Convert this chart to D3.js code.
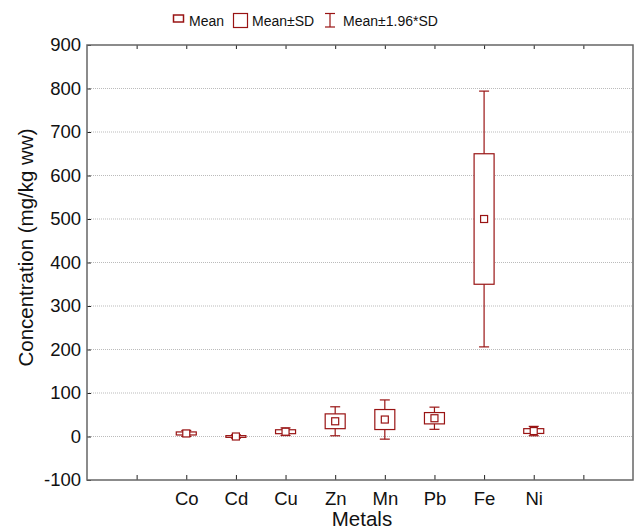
<!DOCTYPE html>
<html>
<head>
<meta charset="utf-8">
<script src="https://cdn.jsdelivr.net/npm/d3@7"></script>
<style>
  body { margin: 0; background: #fff; }
  svg { display: block; font-family: Arial, "Liberation Sans", sans-serif; }
</style>
</head>
<body>
<div id="chart"></div>
<script>
// values
const metals = ["Co", "Cd", "Cu", "Zn", "Mn", "Pb", "Fe", "Ni"];
const means = [7, 0, 11, 35, 39, 42, 500, 12.5];
const sds = [3.5, 2, 4.5, 17, 23, 13, 150, 5.5];
const yTicks = [-100, 0, 100, 200, 300, 400, 500, 600, 700, 800, 900];

const W = 636, H = 531;
const red = "#991414";
const frame = "#666";

const svg = d3.select("#chart").append("svg")
  .attr("width", W).attr("height", H);

const x = d3.scaleLinear().domain([0, metals.length + 3]).range([87, 633]);
const y = d3.scaleLinear().domain([-100, 900]).range([480, 45]);

// grid
svg.append("g").selectAll("line")
  .data(yTicks.filter(t => t > -100 && t < 900))
  .enter().append("line")
  .attr("x1", x(0)).attr("x2", x(metals.length + 3))
  .attr("y1", d => y(d)).attr("y2", d => y(d))
  .attr("stroke", "#bbb").attr("stroke-width", 1)
  .attr("stroke-dasharray", "1,1");

// axes
const yAxis = d3.axisLeft(y).tickValues(yTicks).tickSize(-4).tickPadding(6)
  .tickFormat(d => String(d));
const gy = svg.append("g").attr("transform", `translate(${x(0)},0)`).call(yAxis);
gy.selectAll("text").attr("font-size", "18.5px").attr("fill", "#111")
  .attr("font-family", "Arial, 'Liberation Sans', sans-serif");

const catTicks = d3.range(1, metals.length + 3);
const xAxis = d3.axisBottom(x).tickValues(catTicks).tickSize(-5).tickPadding(12)
  .tickFormat(d => metals[d - 2] || "");
const gx = svg.append("g").attr("transform", `translate(0,${y(-100)})`).call(xAxis);
gx.selectAll("text").attr("font-size", "18.5px").attr("fill", "#111")
  .attr("font-family", "Arial, 'Liberation Sans', sans-serif");

const xTop = d3.axisTop(x).tickValues(catTicks).tickSize(-4).tickFormat("");
svg.append("g").attr("transform", `translate(0,${y(900)})`).call(xTop);

svg.selectAll(".domain").remove();
svg.selectAll(".tick line").attr("stroke", "#222");

// frame
svg.append("rect")
  .attr("x", x(0)).attr("y", y(900))
  .attr("width", x(metals.length + 3) - x(0))
  .attr("height", y(-100) - y(900))
  .attr("fill", "none").attr("stroke", frame).attr("stroke-width", 1.5);

// boxes
const data = metals.map((m, i) => ({ m, i, mean: means[i], sd: sds[i] }));
const boxW = 20, capW = 10, meanS = 7;
const g = svg.append("g").attr("fill", "none").attr("stroke", red).attr("stroke-width", 1.2);

g.selectAll(".whisker").data(data).enter().append("line")
  .attr("x1", d => x(d.i + 2)).attr("x2", d => x(d.i + 2))
  .attr("y1", d => y(d.mean + 1.96 * d.sd)).attr("y2", d => y(d.mean - 1.96 * d.sd));

g.selectAll(".capTop").data(data).enter().append("line")
  .attr("x1", d => x(d.i + 2) - capW / 2).attr("x2", d => x(d.i + 2) + capW / 2)
  .attr("y1", d => y(d.mean + 1.96 * d.sd)).attr("y2", d => y(d.mean + 1.96 * d.sd));

g.selectAll(".capBot").data(data).enter().append("line")
  .attr("x1", d => x(d.i + 2) - capW / 2).attr("x2", d => x(d.i + 2) + capW / 2)
  .attr("y1", d => y(d.mean - 1.96 * d.sd)).attr("y2", d => y(d.mean - 1.96 * d.sd));

g.selectAll(".box").data(data).enter().append("rect")
  .attr("x", d => x(d.i + 2) - boxW / 2)
  .attr("y", d => y(d.mean + d.sd))
  .attr("width", boxW)
  .attr("height", d => y(d.mean - d.sd) - y(d.mean + d.sd))
  .attr("fill", "#fff");

g.selectAll(".mean").data(data).enter().append("rect")
  .attr("x", d => x(d.i + 2) - meanS / 2)
  .attr("y", d => y(d.mean) - meanS / 2)
  .attr("width", meanS).attr("height", meanS)
  .attr("fill", "#fff");

// axis titles
svg.append("text")
  .attr("x", (x(0) + x(metals.length + 3)) / 2 + 2).attr("y", 526)
  .attr("text-anchor", "middle").attr("font-size", "20.5px").attr("fill", "#111")
  .text("Metals");

svg.append("text")
  .attr("transform", `translate(33,${(y(-100) + y(900)) / 2 - 15}) rotate(-90)`)
  .attr("text-anchor", "middle").attr("font-size", "20.5px").attr("fill", "#111")
  .text("Concentration (mg/kg ww)");

// legend
const lg = svg.append("g").attr("font-size", "14px").attr("fill", "#111");
lg.append("rect").attr("x", 173.5).attr("y", 15).attr("width", 10).attr("height", 7)
  .attr("fill", "none").attr("stroke", red).attr("stroke-width", 1.5);
lg.append("text").attr("x", 189).attr("y", 26).text("Mean");

lg.append("rect").attr("x", 233.5).attr("y", 13.5).attr("width", 14).attr("height", 14)
  .attr("fill", "none").attr("stroke", red).attr("stroke-width", 1.2);
lg.append("text").attr("x", 252).attr("y", 26).text("Mean±SD");

const wl = lg.append("g").attr("stroke", red).attr("stroke-width", 1.2);
wl.append("line").attr("x1", 330).attr("x2", 330).attr("y1", 13.5).attr("y2", 27);
wl.append("line").attr("x1", 325).attr("x2", 335).attr("y1", 13.5).attr("y2", 13.5);
wl.append("line").attr("x1", 325).attr("x2", 335).attr("y1", 27).attr("y2", 27);
lg.append("text").attr("x", 343).attr("y", 26).text("Mean±1.96*SD");
</script>
</body>
</html>
